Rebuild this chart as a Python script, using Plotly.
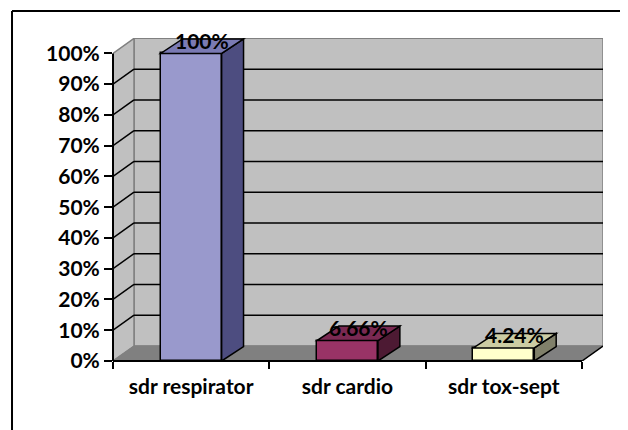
import plotly.graph_objects as go

# ---- data ----
categories = ["sdr respirator", "sdr cardio", "sdr tox-sept"]
values = [100, 6.66, 4.24]
value_labels = ["100%", "6.66%", "4.24%"]
y_ticks = [0, 10, 20, 30, 40, 50, 60, 70, 80, 90, 100]

front_colors = ["#9999CC", "#993366", "#FFFFCC"]
top_colors = ["#7A7AB3", "#7A2952", "#CCCCA3"]
side_colors = ["#4D4D80", "#4D1A33", "#80806A"]

# ---- 3D geometry (in axis units) ----
BAR_W = 0.39
DX = 0.1344   # wall depth along x (category units)
DY = 4.88     # wall depth along y (percent units)
BDX = 0.14    # bar depth along x
BDY = 4.7     # bar depth along y

FONT = "Lato"
FS = 21

fig = go.Figure()

fig.add_trace(go.Bar(
    x=categories, y=values, width=BAR_W,
    marker=dict(color=front_colors, line=dict(color="black", width=1.5)),
    hoverinfo="skip", showlegend=False,
))

shapes = []
x0, x1 = -0.5, len(categories) - 0.5

# back wall
shapes.append(dict(type="rect", xref="x", yref="y", layer="below",
                   x0=x0 + DX, x1=x1 + DX, y0=DY, y1=100 + DY,
                   fillcolor="#C0C0C0", line=dict(color="#808080", width=1.5)))
# left wall
shapes.append(dict(type="path", xref="x", yref="y", layer="below",
                   path=f"M {x0} 0 L {x0} 100 L {x0 + DX} {100 + DY} L {x0 + DX} {DY} Z",
                   fillcolor="#C0C0C0", line=dict(color="#808080", width=1.5)))
# floor
shapes.append(dict(type="path", xref="x", yref="y", layer="below",
                   path=f"M {x0} 0 L {x1} 0 L {x1 + DX} {DY} L {x0 + DX} {DY} Z",
                   fillcolor="#808080", line=dict(color="#808080", width=1)))
# gridlines on back wall and left wall
for v in y_ticks[1:-1]:
    shapes.append(dict(type="line", xref="x", yref="y", layer="below",
                       x0=x0 + DX, x1=x1 + DX, y0=v + DY, y1=v + DY,
                       line=dict(color="black", width=1.5)))
    shapes.append(dict(type="line", xref="x", yref="y", layer="below",
                       x0=x0, x1=x0 + DX, y0=v, y1=v + DY,
                       line=dict(color="black", width=1.5)))
# front axis lines
shapes.append(dict(type="line", xref="paper", yref="y", layer="above",
                   x0=0, x1=0, y0=0, y1=100, line=dict(color="black", width=2)))
shapes.append(dict(type="line", xref="x", yref="paper", layer="above",
                   x0=x0, x1=x1, y0=0, y1=0, line=dict(color="black", width=2)))
shapes.append(dict(type="line", xref="x", yref="y", layer="above",
                   x0=x1, x1=x1 + DX, y0=0, y1=DY, line=dict(color="black", width=1.5)))

# 3D faces of bars
for i, v in enumerate(values):
    xl, xr = i - BAR_W / 2, i + BAR_W / 2
    shapes.append(dict(type="path", xref="x", yref="y", layer="above",
                       path=f"M {xr} 0 L {xr + BDX} {BDY} L {xr + BDX} {v + BDY} L {xr} {v} Z",
                       fillcolor=side_colors[i], line=dict(color="black", width=1.5)))
    shapes.append(dict(type="path", xref="x", yref="y", layer="above",
                       path=f"M {xl} {v} L {xr} {v} L {xr + BDX} {v + BDY} L {xl + BDX} {v + BDY} Z",
                       fillcolor=top_colors[i], line=dict(color="black", width=1.5)))

# outer chart frame (left and top edges only are visible)
shapes.append(dict(type="line", xref="paper", yref="paper", layer="above",
                   x0=-0.2061, x1=-0.2061, y0=-0.4, y1=1.0836,
                   line=dict(color="black", width=2)))
shapes.append(dict(type="line", xref="paper", yref="paper", layer="above",
                   x0=-0.2061, x1=1.2, y0=1.0836, y1=1.0836,
                   line=dict(color="black", width=2)))

annotations = []
for i, v in enumerate(values):
    annotations.append(dict(x=i + BDX / 2, y=v + BDY / 2, xref="x", yref="y",
                            text=value_labels[i], showarrow=False, yshift=6,
                            font=dict(family=FONT, size=FS, color="black", weight="bold")))

fig.update_layout(
    width=620, height=422,
    margin=dict(l=105, r=25, t=30, b=69, pad=0),
    paper_bgcolor="white", plot_bgcolor="rgba(0,0,0,0)",
    shapes=shapes, annotations=annotations,
    bargap=0,
    xaxis=dict(type="category", range=[x0, x1 + DX], showgrid=False, zeroline=False,
               showline=False, ticks="outside", tickson="boundaries", ticklen=7,
               tickwidth=1.5, tickcolor="black", ticklabelstandoff=11,
               tickfont=dict(family=FONT, size=FS, color="black", weight="bold")),
    yaxis=dict(range=[0, 105], tickvals=y_ticks, ticktext=[f"{t}%" for t in y_ticks],
               showgrid=False, zeroline=False, showline=False, ticks="outside",
               ticklen=8, tickwidth=1.5, tickcolor="black",
               tickfont=dict(family=FONT, size=FS, color="black", weight="bold")),
)

fig.write_html("out.html")
